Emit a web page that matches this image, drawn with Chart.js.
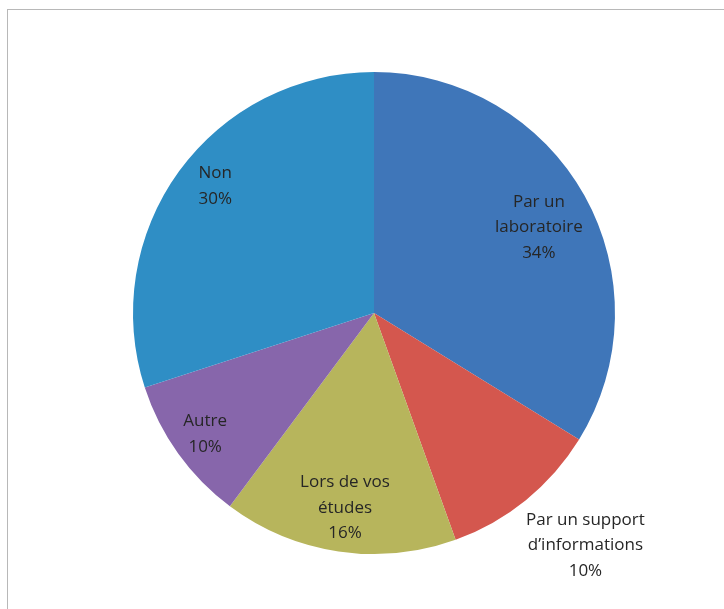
<!DOCTYPE html>
<html>
<head>
<meta charset="utf-8">
<script src="https://cdn.jsdelivr.net/npm/chart.js@4.4.1/dist/chart.umd.min.js"></script>
<style>
html,body{margin:0;padding:0;background:#fff;}
#wrap{position:relative;width:724px;height:609px;}
#frame{position:absolute;left:7px;top:9px;right:-2px;bottom:-2px;border-left:1px solid #b8b8b8;border-top:1px solid #b8b8b8;pointer-events:none;}
canvas{position:absolute;left:0;top:0;}
</style>
</head>
<body>
<div id="wrap">
<div id="frame"></div>
<canvas id="c" width="724" height="609"></canvas>
</div>
<script>
const categories = [
  ["Par un", "laboratoire"],
  ["Par un support", "d\u2019informations"],
  ["Lors de vos", "études"],
  ["Autre"],
  ["Non"]
];
const values = [33.8, 10.7, 15.7, 9.8, 30.0];
const percentLabels = ["34%", "10%", "16%", "10%", "30%"];
const colors = ["#3f76b9", "#d4574e", "#b7b55c", "#8766ab", "#2f8ec5"];

const labelStyle = {
  radius: [0.812, 1.30, 0.818, 0.862, 0.84],
  nudge: [[-6, 10], [14, -11], [0, 0], [0, 0], [5, -8]]
};

const labelPlugin = {
  id: 'sliceLabels',
  afterDatasetsDraw(chart) {
    const ctx = chart.ctx;
    const meta = chart.getDatasetMeta(0);
    ctx.save();
    ctx.font = '17px "Open Sans", sans-serif';
    ctx.fillStyle = '#262626';
    ctx.textAlign = 'center';
    ctx.textBaseline = 'middle';
    const lh = 25.5;
    meta.data.forEach((arc, i) => {
      const p = arc.getProps(['x','y','startAngle','endAngle','outerRadius'], true);
      const mid = (p.startAngle + p.endAngle) / 2;
      const r = p.outerRadius * labelStyle.radius[i];
      const cx = p.x + Math.cos(mid) * r + labelStyle.nudge[i][0];
      const cy = p.y + Math.sin(mid) * r + labelStyle.nudge[i][1];
      const lines = categories[i].concat([percentLabels[i]]);
      const y0 = cy - (lines.length - 1) * lh / 2;
      lines.forEach((t, k) => ctx.fillText(t, cx, y0 + k * lh));
    });
    ctx.restore();
  }
};

new Chart(document.getElementById('c'), {
  type: 'pie',
  data: {
    labels: categories.map(c => c.join(' ')),
    datasets: [{
      data: values,
      backgroundColor: colors,
      borderWidth: 0
    }]
  },
  options: {
    responsive: false,
    animation: false,
    layout: { padding: { left: 133, right: 109, top: 72, bottom: 55 } },
    plugins: { legend: { display: false }, tooltip: { enabled: false } }
  },
  plugins: [labelPlugin]
});
</script>
</body>
</html>
